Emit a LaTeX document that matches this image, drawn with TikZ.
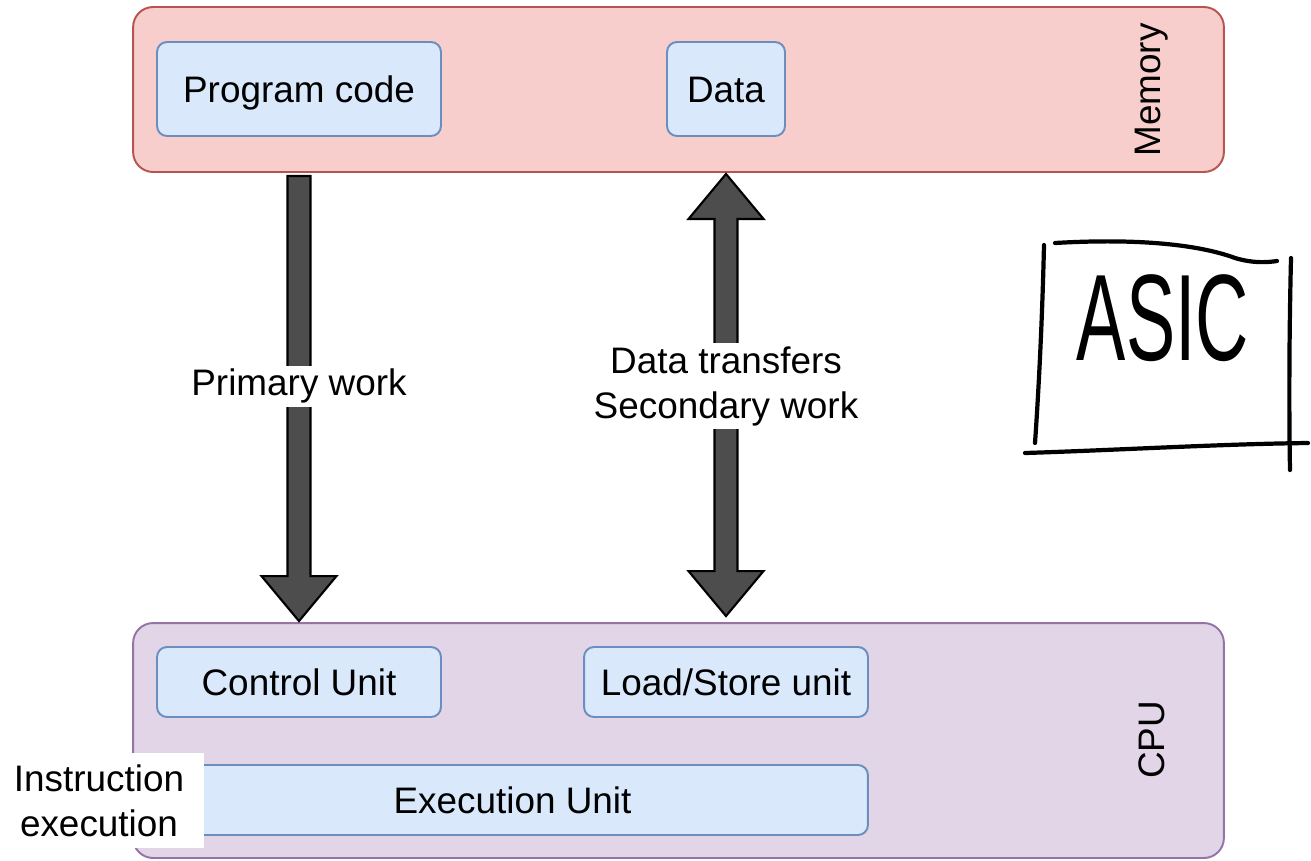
\documentclass[tikz,border=0pt]{standalone}
\usepackage{fontspec}
\setmainfont{Liberation Sans}
\usepackage{xcolor}
\usepackage{tikz}
\usetikzlibrary{shapes,arrows,positioning,calc}

\definecolor{memfill}{HTML}{F8CECC}
\definecolor{memline}{HTML}{B85450}
\definecolor{unitfill}{HTML}{DAE8FC}
\definecolor{unitline}{HTML}{6C8EBF}
\definecolor{cpufill}{HTML}{E1D5E7}
\definecolor{cpuline}{HTML}{9673A6}
\definecolor{arrowfill}{HTML}{4D4D4D}

\tikzset{
    block/.style={
        draw,
        line width=1.1pt,
        rounded corners=0.4cm,
        inner sep=0pt,
        minimum width=21.82cm
    },
    unit/.style={
        draw=unitline,
        fill=unitfill,
        line width=1.1pt,
        rounded corners=0.2cm,
        inner sep=0pt,
        text height=16pt,
        text depth=1pt
    },
    bigarrow/.style={
        draw=black,
        fill=arrowfill,
        line width=1.2pt,
        line join=miter
    },
    label/.style={
        fill=white,
        inner sep=2pt,
        align=center
    },
    hand/.style={
        line width=2.4pt,
        line cap=round,
        line join=round
    }
}

\begin{document}
\begin{tikzpicture}[x=0.02cm, y=-0.02cm]
                \fontsize{21}{25.6}\selectfont
                \useasboundingbox (0,0) rectangle (1311,860);

                % memory
                \node[
                    block,
                    draw=memline,
                    fill=memfill,
                    minimum height=3.3cm
                    ] (mem) at (678.5,89.5) {};
                \node[rotate=90] (memlbl) at (1152,90) {Memory};
                \node[
                    unit,
                    minimum width=5.68cm,
                    minimum height=1.88cm
                    ] (prog) at (299,89) {Program code};
                \node[
                    unit,
                    minimum width=2.36cm,
                    minimum height=1.88cm
                    ] (data) at (726,89) {Data};

                % cpu
                \node[
                    block,
                    draw=cpuline,
                    fill=cpufill,
                    minimum height=4.7cm
                    ] (cpu) at (678.5,740.5) {};
                \node[rotate=90] (cpulbl) at (1152,740) {CPU};
                \node[
                    unit,
                    minimum width=5.68cm,
                    minimum height=1.4cm
                    ] (ctrl) at (299,682) {Control Unit};
                \node[
                    unit,
                    minimum width=5.68cm,
                    minimum height=1.4cm
                    ] (lsu) at (726,682) {Load/Store unit};
                \node[
                    unit,
                    minimum width=14.22cm,
                    minimum height=1.4cm
                    ] (exec) at (512.5,800) {Execution Unit};
                \node[
                    label,
                    inner sep=0pt,
                    minimum width=4.2cm,
                    minimum height=1.9cm
                    ] (instr) at (99,800.5) {Instruction\\execution};

                % primary work arrow
                \coordinate (t1) at (prog.center |- mem.south);
                \coordinate (b1) at (prog.center |- cpu.north);
                \draw[bigarrow]
                    ($(t1)+(-11.5,3)$) -- ($(t1)+(11.5,3)$)
                    -- ($(b1)+(11.5,-46)$) -- ($(b1)+(37.5,-46)$)
                    -- ($(b1)+(0,-1)$)
                    -- ($(b1)+(-37.5,-46)$) -- ($(b1)+(-11.5,-46)$)
                    -- cycle;
                \node[label] (prim) at ($(t1)!0.475!(b1)$) {Primary work};

                % data transfer arrow
                \coordinate (t2) at (data.center |- mem.south);
                \coordinate (b2) at (data.center |- cpu.north);
                \draw[bigarrow]
                    ($(t2)+(0,1)$) -- ($(t2)+(37.5,46)$)
                    -- ($(t2)+(11.5,46)$) -- ($(b2)+(11.5,-51)$)
                    -- ($(b2)+(37.5,-51)$) -- ($(b2)+(0,-6)$)
                    -- ($(b2)+(-37.5,-51)$) -- ($(b2)+(-11.5,-51)$)
                    -- ($(t2)+(-11.5,46)$) -- ($(t2)+(-37.5,46)$)
                    -- cycle;
                \node[label] (xfer) at (726,386) {Data transfers\\Secondary work};

                % hand drawn asic box
                \draw[hand] (1044,245) .. controls (1042,330) and (1038,400) .. (1035,443);
                \draw[hand] (1055,243) .. controls (1140,238) and (1200,245) .. (1235,258)
                    .. controls (1255,264) and (1270,262) .. (1277,261);
                \draw[hand] (1291,258) .. controls (1289,340) and (1289,420) .. (1290,470);
                \draw[hand] (1025,453) .. controls (1120,450) and (1220,444) .. (1308,443);
                \node[
                    font=\fontsize{70}{70}\selectfont,
                    xscale=0.6
                    ] (asic) at (1163,318) {ASIC};

            \end{tikzpicture}
\end{document}
